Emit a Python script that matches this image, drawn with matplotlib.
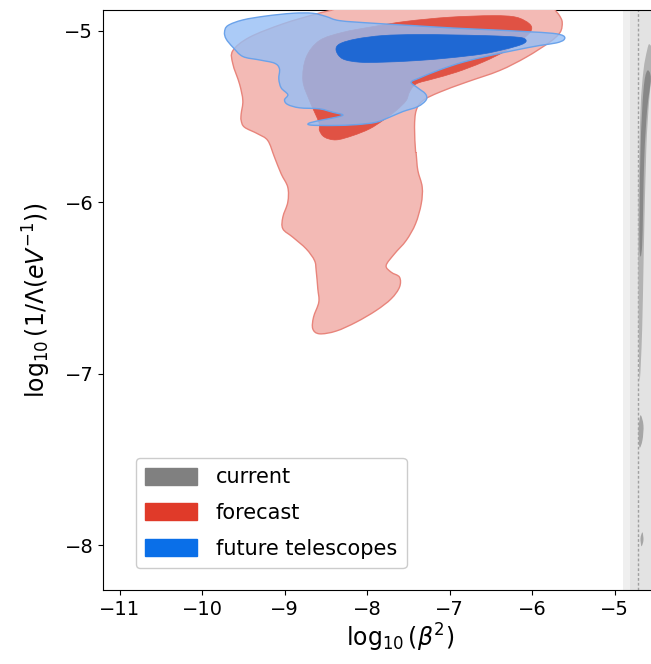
import matplotlib
matplotlib.use("Agg")
import numpy as np
import matplotlib.pyplot as plt
from matplotlib.patches import Patch, PathPatch
from matplotlib.path import Path

# ---- contour outlines: (log10 beta^2, log10 1/Lambda) ----
forecast_outer_x = [-9.626, -9.424, -9.020, -8.616, -8.333, -8.010, -6.798, -5.828,
                    -5.727, -5.667, -5.634, -5.659, -5.788, -6.071, -6.394, -6.798,
                    -7.121, -7.323, -7.404, -7.424, -7.412, -7.404, -7.384, -7.331,
                    -7.343, -7.412, -7.525, -7.667, -7.768, -7.707, -7.606, -7.606,
                    -7.707, -7.889, -8.131, -8.374, -8.576, -8.657, -8.648, -8.584,
                    -8.596, -8.616, -8.636, -8.737, -8.899, -9.020, -9.020, -8.960,
                    -8.960, -9.040, -9.121, -9.202, -9.323, -9.485, -9.525, -9.525,
                    -9.505, -9.545, -9.626]
forecast_outer_y = [-5.117, -5.039, -4.961, -4.903, -4.864, -4.767, -4.748, -4.786,
                    -4.874, -4.913, -4.952, -5.010, -5.068, -5.155, -5.233, -5.301,
                    -5.359, -5.408, -5.466, -5.563, -5.699, -5.718, -5.815, -5.912,
                    -6.010, -6.126, -6.223, -6.301, -6.369, -6.408, -6.437, -6.495,
                    -6.563, -6.631, -6.699, -6.751, -6.767, -6.738, -6.670, -6.582,
                    -6.505, -6.398, -6.340, -6.272, -6.204, -6.155, -6.087, -6.000,
                    -5.913, -5.835, -5.738, -5.641, -5.602, -5.563, -5.524, -5.485,
                    -5.408, -5.311, -5.194]

forecast_inner_x = [-8.584, -8.697, -8.778, -8.737, -8.576, -8.293, -7.929, -7.525,
                    -7.000, -6.475, -6.192, -6.030, -6.010, -6.111, -6.313, -6.596,
                    -6.919, -7.202, -7.404, -7.485, -7.525, -7.646, -7.808, -7.970,
                    -8.172, -8.374, -8.515, -8.576]
forecast_inner_y = [-5.534, -5.408, -5.291, -5.155, -5.058, -5.010, -4.977, -4.946,
                    -4.922, -4.913, -4.922, -4.961, -5.000, -5.049, -5.117, -5.184,
                    -5.243, -5.282, -5.311, -5.359, -5.408, -5.466, -5.524, -5.573,
                    -5.612, -5.637, -5.621, -5.582]

future_outer_x = [-9.727, -9.687, -9.505, -9.222, -8.899, -8.657, -8.495, -8.333,
                  -7.929, -7.444, -6.960, -6.475, -6.071, -5.748, -5.618, -5.614,
                  -5.707, -5.909, -6.192, -6.515, -6.838, -7.121, -7.364, -7.465,
                  -7.384, -7.291, -7.283, -7.384, -7.566, -7.727, -7.889, -8.131,
                  -8.414, -8.677, -8.705, -8.576, -8.374, -8.293, -8.414, -8.576,
                  -8.818, -8.960, -9.000, -8.960, -9.040, -9.069, -9.061, -9.121,
                  -9.303, -9.505, -9.626, -9.707]
future_outer_y = [-5.010, -4.971, -4.938, -4.915, -4.899, -4.899, -4.918, -4.942,
                  -4.957, -4.971, -4.985, -4.996, -5.006, -5.016, -5.031, -5.054,
                  -5.072, -5.087, -5.113, -5.146, -5.184, -5.229, -5.276, -5.301,
                  -5.334, -5.369, -5.404, -5.443, -5.472, -5.505, -5.534, -5.548,
                  -5.553, -5.551, -5.540, -5.524, -5.505, -5.491, -5.476, -5.456,
                  -5.450, -5.431, -5.404, -5.373, -5.334, -5.282, -5.223, -5.190,
                  -5.171, -5.151, -5.097, -5.049]

future_inner_x = [-8.374, -8.333, -8.131, -7.808, -7.404, -7.000, -6.596, -6.273,
                  -6.111, -6.071, -6.131, -6.313, -6.596, -7.000, -7.404, -7.808,
                  -8.091, -8.293]
future_inner_y = [-5.117, -5.078, -5.049, -5.029, -5.023, -5.025, -5.029, -5.035,
                  -5.043, -5.062, -5.082, -5.107, -5.136, -5.159, -5.175, -5.184,
                  -5.184, -5.165]

current_outer_x = [-4.530, -4.575, -4.605, -4.649, -4.685, -4.709, -4.709, -4.697,
                   -4.665, -4.645, -4.615, -4.580]
current_outer_y = [-5.150, -5.080, -5.115, -5.233, -5.466, -5.990, -6.573, -7.038,
                   -6.747, -6.281, -5.699, -5.408]
current_inner_x = [-4.560, -4.605, -4.649, -4.685, -4.697, -4.665, -4.640, -4.605]
current_inner_y = [-5.280, -5.235, -5.349, -5.699, -6.252, -6.252, -5.757, -5.466]
current_blob1_x = [-4.685, -4.649, -4.661, -4.697, -4.709]
current_blob1_y = [-7.242, -7.300, -7.387, -7.429, -7.329]
current_blob2_x = [-4.661, -4.649, -4.673, -4.685]
current_blob2_y = [-7.924, -7.970, -8.005, -7.959]

# shaded bounds of the current constraint
current_band_wide = -4.90
current_band_narrow = -4.81
current_line = -4.71

legend_labels = ["current", "forecast", "future telescopes"]
legend_colors = ["#808080", "#e03a29", "#0a6fe8"]

xticks = [-11, -10, -9, -8, -7, -6, -5]
yticks = [-8, -7, -6, -5]


def smooth_region(ax, xs, ys, **kw):
    """Fill a closed outline drawn as a smooth Bezier curve through its vertices."""
    p = np.column_stack([xs, ys])
    n = len(p)
    verts = [p[0]]
    codes = [Path.MOVETO]
    for i in range(n):
        p0, p1, p2, p3 = p[i - 1], p[i], p[(i + 1) % n], p[(i + 2) % n]
        verts += [p1 + (p2 - p0) / 6.0, p2 - (p3 - p1) / 6.0, p2]
        codes += [Path.CURVE4] * 3
    verts.append(p[0])
    codes.append(Path.CLOSEPOLY)
    patch = PathPatch(Path(verts, codes), **kw)
    ax.add_patch(patch)
    return patch


W, H, DPI = 651, 664, 100
fig = plt.figure(figsize=(W / DPI, H / DPI), dpi=DPI)
ax = fig.add_axes([103 / W, 74 / H, 594 / W, 580 / H])
ax.set_xlim(-11.2, -4.0)
ax.set_ylim(-8.26, -4.88)

# current
ax.axvspan(current_band_wide, -3.5, color="#efefef", lw=0, zorder=1)
ax.axvspan(current_band_narrow, -3.5, color="#e3e3e3", lw=0, zorder=1)
ax.axvline(current_line, color="#a0a0a0", lw=1, ls=(0, (2, 1.5)), zorder=2)
smooth_region(ax, current_outer_x, current_outer_y, facecolor="#b3b3b3", lw=0, zorder=3)
smooth_region(ax, current_inner_x, current_inner_y, facecolor="#888888", lw=0, zorder=3)
smooth_region(ax, current_blob1_x, current_blob1_y, facecolor="#a6a6a6", lw=0, zorder=3)
smooth_region(ax, current_blob2_x, current_blob2_y, facecolor="#a6a6a6", lw=0, zorder=3)

# forecast
smooth_region(ax, forecast_outer_x, forecast_outer_y, facecolor="#f3bab5",
              edgecolor="#e8847b", lw=1.0, zorder=4)
smooth_region(ax, forecast_inner_x, forecast_inner_y, facecolor="#e05244",
              edgecolor="#e05244", lw=0.5, zorder=5)

# future telescopes
smooth_region(ax, future_outer_x, future_outer_y, facecolor=(0.59, 0.75, 0.96, 0.8),
              edgecolor="#6aa2ea", lw=1.0, zorder=6)
smooth_region(ax, future_inner_x, future_inner_y, facecolor="#1f68d3",
              edgecolor="#1f68d3", lw=0.5, zorder=7)

ax.set_xticks(xticks)
ax.set_yticks(yticks)
ax.tick_params(labelsize=14)
ax.spines["right"].set_visible(False)
ax.set_xlabel(r"$\log_{10}(\beta^2)$", fontsize=17, labelpad=2)
ax.set_ylabel(r"$\log_{10}(1/\Lambda(eV^{-1}))$", fontsize=17, labelpad=8)

handles = [Patch(facecolor=c, edgecolor=c) for c in legend_colors]
ax.legend(handles, legend_labels, loc="lower left",
          bbox_to_anchor=(0.055, 0.038), borderaxespad=0, fontsize=15,
          handlelength=2.5, handleheight=0.87, handletextpad=0.9,
          labelspacing=0.75, borderpad=0.45, framealpha=1.0, edgecolor="#cccccc")

fig.savefig("out.png", dpi=DPI)
